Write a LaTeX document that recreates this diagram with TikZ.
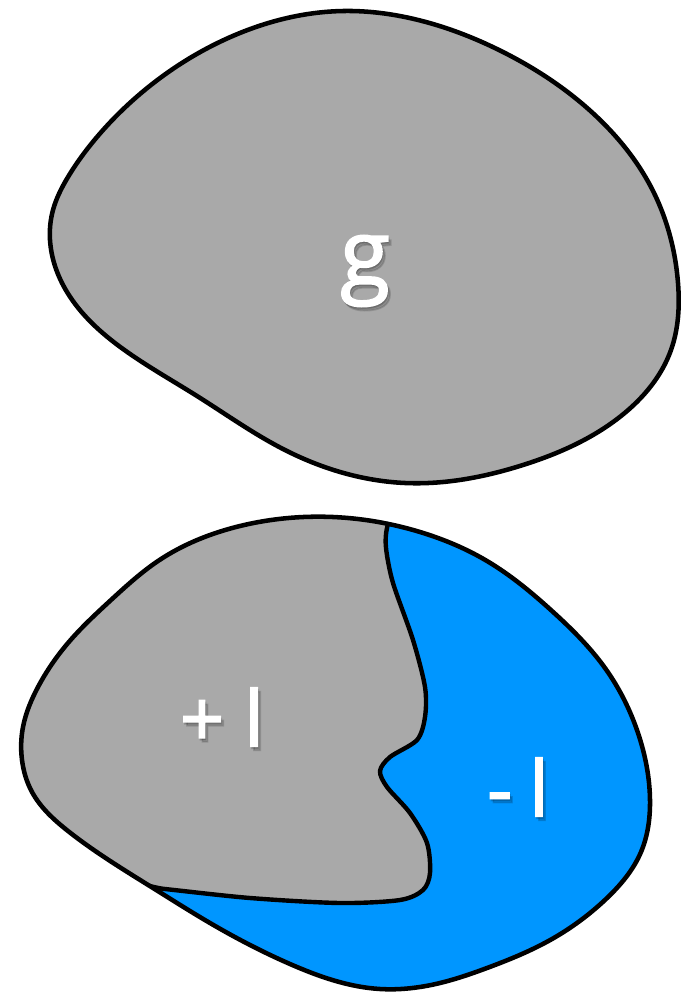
\documentclass[tikz,border=0pt]{standalone}
\usepackage{fontspec}
\setmainfont{Open Sans}
\newfontfamily\lblfont{Open Sans}[UprightFeatures={FakeBold=2}]
\usetikzlibrary{hobby}
\definecolor{blobgray}{RGB}{169,169,169}
\definecolor{blobblue}{RGB}{0,150,255}
\begin{document}
\begin{tikzpicture}[x=0.75pt,y=-0.75pt,
  outline/.style={draw=black,line width=3.4pt,line join=round},
  divline/.style={draw=black,line width=3.3pt,line join=round},
  lbl/.style={text=white,inner sep=0pt,font=\lblfont\fontsize{58}{60}\selectfont},
  biglbl/.style={lbl,font=\lblfont\fontsize{68}{70}\selectfont},
  shade/.style={text=black,text opacity=0.14}]
\useasboundingbox (0,0) rectangle (683,994);
% top blob
\draw[outline,fill=blobgray,use Hobby shortcut,closed=true] (344,11) .. (414,19) .. (501,51) .. (597,117) .. (651,187) .. (678,283) .. (671,350) .. (621,416) .. (523,465) .. (405,483) .. (283,449) .. (197,396) .. (123,349) .. (67,292) .. (50,240) .. (53,210) .. (68,177) .. (97,137) .. (140,94) .. (226,39);
% bottom blob
\begin{scope}
\clip[use Hobby shortcut,closed=true] (333,517) .. (420,532) .. (487,561) .. (552,611) .. (605,668) .. (638,733) .. (650,800) .. (641,852) .. (606,899) .. (552,939) .. (487,968) .. (440,983) .. (380,989) .. (290,964) .. (210,923) .. (153,888) .. (68,831) .. (32,792) .. (22,760) .. (23,727) .. (38,687) .. (68,643) .. (111,600) .. (158,561) .. (240,526);
\fill[blobgray] (0,0) rectangle (683,994);
\draw[divline,fill=blobblue] plot[smooth cycle] coordinates {(387,528) (386,548) (393,583) (413,640) (425,687) (425,717) (417,740) (390,757) (380,771) (387,787) (410,813) (427,843) (430,873) (423,890) (400,900) (340,903) (250,898) (165,889) (135,886) (190,942) (290,982) (380,1004) (490,984) (562,955) (620,910) (657,858) (667,800) (654,728) (620,660) (562,600) (492,547) (422,516) (395,508)};
\end{scope}
\draw[outline,use Hobby shortcut,closed=true] (333,517) .. (420,532) .. (487,561) .. (552,611) .. (605,668) .. (638,733) .. (650,800) .. (641,852) .. (606,899) .. (552,939) .. (487,968) .. (440,983) .. (380,989) .. (290,964) .. (210,923) .. (153,888) .. (68,831) .. (32,792) .. (22,760) .. (23,727) .. (38,687) .. (68,643) .. (111,600) .. (158,561) .. (240,526);
% labels with soft shadows
\foreach \dx/\dy [count=\i] in {1/2,3/4} {
  \node[biglbl,shade] (gs\i) at (365+\dx,271+\dy) {g};
  \node[lbl,shade] (pls\i) at (222+\dx,717+\dy) {+\hspace{0.26em}l};
  \node[lbl,shade] (mis\i) at (518+\dx,787+\dy) {-\hspace{0.22em}l};
}
\node[biglbl] (g) at (365,271) {g};
\node[lbl] (plus) at (222,717) {+\hspace{0.26em}l};
\node[lbl] (minus) at (518,787) {-\hspace{0.22em}l};
\end{tikzpicture}
\end{document}
